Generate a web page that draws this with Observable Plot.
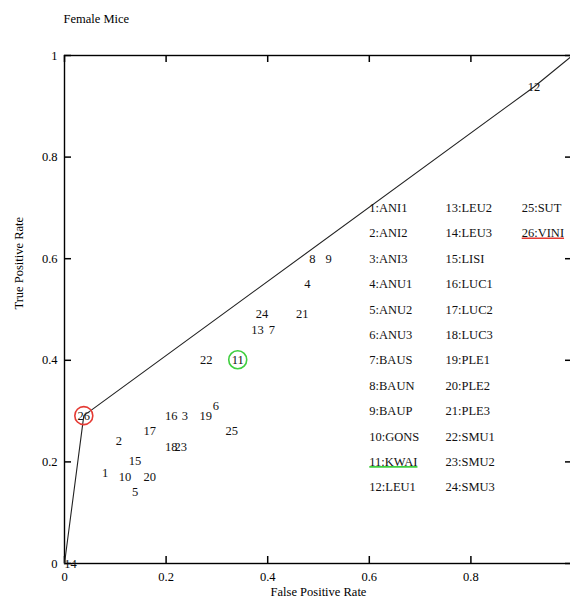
<!DOCTYPE html>
<html><head><meta charset="utf-8">
<script src="https://cdn.jsdelivr.net/npm/d3@7"></script>
<script src="https://cdn.jsdelivr.net/npm/@observablehq/plot@0.6"></script>
<style>
body{margin:0;background:#fff}
#chart svg{font-family:"Liberation Serif","DejaVu Serif",serif;display:block}
</style>
</head><body><div id="chart"></div>
<script>
const ids = [1,2,3,4,5,6,7,8,9,10,11,12,13,14,15,16,17,18,19,20,21,22,23,24,25,26];
const names = ["ANI1","ANI2","ANI3","ANU1","ANU2","ANU3","BAUS","BAUN","BAUP","GONS","KWAI","LEU1","LEU2","LEU3","LISI","LUC1","LUC2","LUC3","PLE1","PLE2","PLE3","SMU1","SMU2","SMU3","SUT","VINI"];
const fpr = [0.080,0.107,0.237,0.478,0.139,0.298,0.408,0.488,0.520,0.119,0.341,0.924,0.380,0.012,0.139,0.210,0.168,0.210,0.278,0.168,0.468,0.279,0.229,0.389,0.329,0.038];
const tpr = [0.179,0.242,0.291,0.551,0.140,0.311,0.460,0.600,0.600,0.171,0.401,0.938,0.460,0.000,0.201,0.291,0.260,0.230,0.290,0.171,0.492,0.401,0.230,0.492,0.260,0.291];
const hullIds = [26, 12];
const highlightIds = [26, 11];
const highlightColors = ["#e53a33", "#3fcf3f"];
const xTicks = [0, 0.2, 0.4, 0.6, 0.8];
const yTicks = [0, 0.2, 0.4, 0.6, 0.8, 1];
const legendColX = [0.6, 0.75, 0.9];
const legendRowY = [0.70,0.65,0.60,0.55,0.50,0.45,0.40,0.35,0.30,0.25,0.20,0.15];
const perColumn = 12;

const points = ids.map((id, i) => ({id, name: names[i], fpr: fpr[i], tpr: tpr[i]}));
const byId = new Map(points.map(p => [p.id, p]));
const hull = [{fpr: 0, tpr: 0}, ...hullIds.map(id => byId.get(id)), {fpr: 1, tpr: 1}];
const highlights = highlightIds.map((id, i) => ({...byId.get(id), color: highlightColors[i]}));
const legend = points.map((p, i) => ({
  label: `${p.id}:${p.name}`,
  x: legendColX[Math.floor(i / perColumn)],
  y: legendRowY[i % perColumn]
}));

const fs = 12.5;
const W = 570, H = 604, mL = 64, mR = -2, mT = 55, mB = 41;
const frameW = W - mL - mR, frameH = H - mT - mB, tick = 7;
const chart = Plot.plot({
  width: W, height: H,
  marginLeft: mL, marginRight: mR, marginTop: mT, marginBottom: mB,
  x: {domain: [0, 1]},
  y: {domain: [0, 1]},
  style: {fontFamily: '"Liberation Serif","DejaVu Serif",serif', fontSize: fs + "px", color: "#000", background: "#fff"},
  marks: [
    Plot.frame({stroke: "#000", fill: "none", strokeWidth: 1.4}),
    Plot.axisX({ticks: xTicks, tickSize: 0, tickPadding: 9, tickFormat: d => String(d), label: null, fontSize: fs}),
    Plot.axisY({ticks: yTicks, tickSize: 0, tickPadding: 7, tickFormat: d => String(d), label: null, fontSize: fs}),
    // inward ticks on all four sides
    Plot.tickX(xTicks, {x: d => d, insetTop: frameH - tick, stroke: "#000", strokeWidth: 1.5}),
    Plot.tickX(xTicks, {x: d => d, insetBottom: frameH - tick, stroke: "#000", strokeWidth: 1.5}),
    Plot.tickY(yTicks, {y: d => d, insetRight: frameW - tick, stroke: "#000", strokeWidth: 1.5}),
    Plot.tickY(yTicks, {y: d => d, insetLeft: frameW - tick, stroke: "#000", strokeWidth: 1.5}),
    Plot.line(hull, {x: "fpr", y: "tpr", stroke: "#222", strokeWidth: 1.1}),
    Plot.text(points, {x: "fpr", y: "tpr", text: "id", fontSize: fs, fill: "#111"}),
    Plot.dot(highlights, {x: "fpr", y: "tpr", r: 9, stroke: "color", strokeWidth: 1.6, fill: "none"}),
    Plot.text(legend, {x: "x", y: "y", text: "label", textAnchor: "start", fontSize: fs, fill: "#111"}),
    Plot.text(["Female Mice"], {frameAnchor: "top-left", dx: -1, dy: -41, textAnchor: "start", fontSize: fs}),
    Plot.text(["False Positive Rate"], {frameAnchor: "bottom", dy: 32, fontSize: fs}),
    Plot.text(["True Positive Rate"], {frameAnchor: "left", dx: -46, rotate: -90, fontSize: fs})
  ]
});
document.getElementById("chart").appendChild(chart);

// underline the highlighted legend entries in their highlight colour
const svgRect = chart.getBoundingClientRect();
const colorByLabel = new Map(highlights.map(h => [`${h.id}:${h.name}`, h.color]));
d3.select(chart).selectAll("text").each(function() {
  const c = colorByLabel.get(this.textContent);
  if (!c) return;
  const r = this.getBoundingClientRect();
  d3.select(chart).append("line")
    .attr("x1", r.left - svgRect.left).attr("x2", r.right - svgRect.left)
    .attr("y1", r.bottom - svgRect.top - 2).attr("y2", r.bottom - svgRect.top - 2)
    .attr("stroke", c).attr("stroke-width", 1.6);
});
</script>
</body></html>
